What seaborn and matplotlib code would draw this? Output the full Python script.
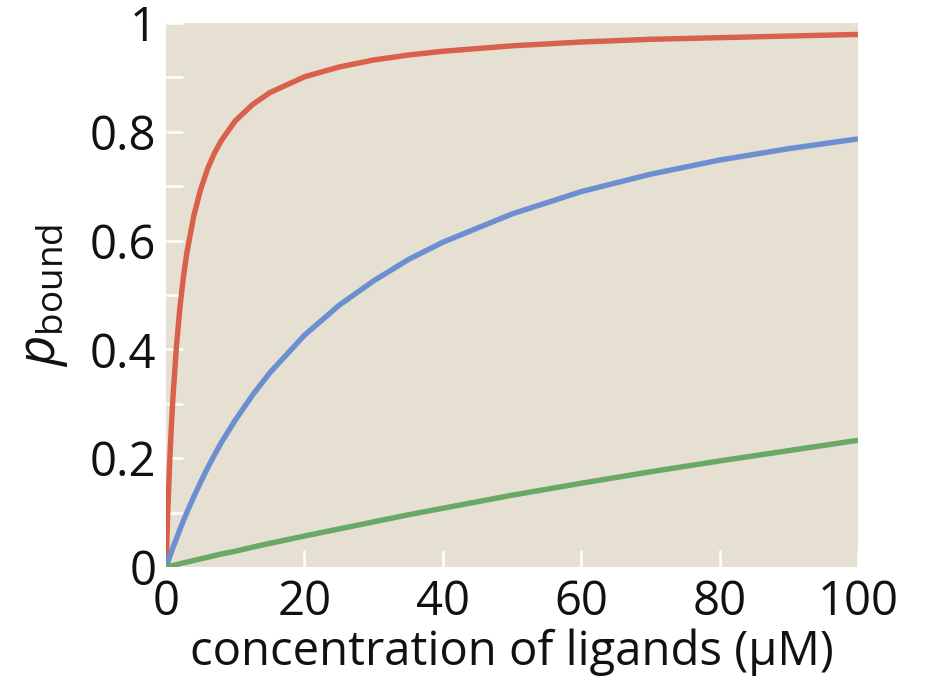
import matplotlib
matplotlib.use("Agg")
import matplotlib.pyplot as plt
import seaborn as sns
import pandas as pd

# ligand concentration (uM) at which values were read
conc = [0, 0.25, 0.5, 0.75, 1, 1.5, 2, 2.5, 3, 4, 5, 6, 7, 8, 10, 12.5, 15, 20, 25, 30, 35, 40,
        50, 60, 70, 80, 90, 100]

# p_bound for each curve
p_red = [0, 0.102, 0.185, 0.254, 0.312, 0.405, 0.476, 0.532, 0.577, 0.645, 0.694, 0.732, 0.761,
         0.784, 0.820, 0.850, 0.872, 0.901, 0.919, 0.932, 0.941, 0.948, 0.958, 0.965, 0.970,
         0.973, 0.976, 0.979]
p_blue = [0, 0.009, 0.018, 0.027, 0.036, 0.052, 0.069, 0.085, 0.100, 0.129, 0.156, 0.182,
          0.206, 0.229, 0.270, 0.316, 0.357, 0.426, 0.481, 0.526, 0.565, 0.597, 0.649, 0.690,
          0.722, 0.748, 0.769, 0.787]
p_green = [0, 0.0008, 0.0015, 0.0023, 0.003, 0.0045, 0.006, 0.0075, 0.009, 0.012, 0.015, 0.018,
           0.021, 0.024, 0.029, 0.0365, 0.0435, 0.057, 0.070, 0.083, 0.096, 0.108, 0.132, 0.154,
           0.175, 0.195, 0.214, 0.233]

series_names = ["high affinity", "medium affinity", "low affinity"]
colors = ["#d9604a", "#6b8fd0", "#6aa865"]

y_ticks = [0, 0.2, 0.4, 0.6, 0.8, 1.0]
y_tick_labels = ["0", "0.2", "0.4", "0.6", "0.8", "1"]
y_minor = [0.1, 0.3, 0.5, 0.7, 0.9]
x_ticks = [0, 20, 40, 60, 80, 100]
x_tick_labels = ["0", "20", "40", "60", "80", "100"]

rows = []
for name, vals in zip(series_names, [p_red, p_blue, p_green]):
    for c, v in zip(conc, vals):
        rows.append({"conc": c, "p": v, "series": name})
df = pd.DataFrame(rows)

sns.set_style("white")
plt.rcParams["font.family"] = ["Open Sans", "DejaVu Sans"]
plt.rcParams["mathtext.fontset"] = "custom"
plt.rcParams["mathtext.rm"] = "Open Sans"
plt.rcParams["mathtext.it"] = "Open Sans:italic"

fig = plt.figure(figsize=(9.25, 6.84), dpi=100)
ax = fig.add_axes([0.1795, 0.171, 0.748, 0.7954])
ax.set_facecolor("#e6e0d2")

sns.lineplot(data=df, x="conc", y="p", hue="series", palette=colors,
             hue_order=series_names, linewidth=3.9, legend=False, ax=ax,
             solid_capstyle="butt")

ax.set_xlim(0, 100)
ax.set_ylim(0, 1)
for s in ax.spines.values():
    s.set_visible(False)

ax.set_yticks(y_ticks)
ax.set_yticklabels(y_tick_labels)
ax.set_yticks(y_minor, minor=True)
ax.set_xticks(x_ticks)
ax.set_xticklabels(x_tick_labels)

ax.tick_params(axis="both", which="both", direction="in", color="white",
               length=12, width=1.8, labelsize=34, labelcolor="#111111",
               bottom=True, left=True, top=False, right=False)
ax.tick_params(axis="y", which="both", pad=7)
ax.tick_params(axis="x", which="both", pad=8)

ax.set_xlabel("concentration of ligands (μM)", fontsize=34, color="#111111", labelpad=2)
ax.set_ylabel(r"$p_{\mathrm{bound}}$", fontsize=38, color="#111111", labelpad=14)

fig.savefig("out.png", dpi=100)
